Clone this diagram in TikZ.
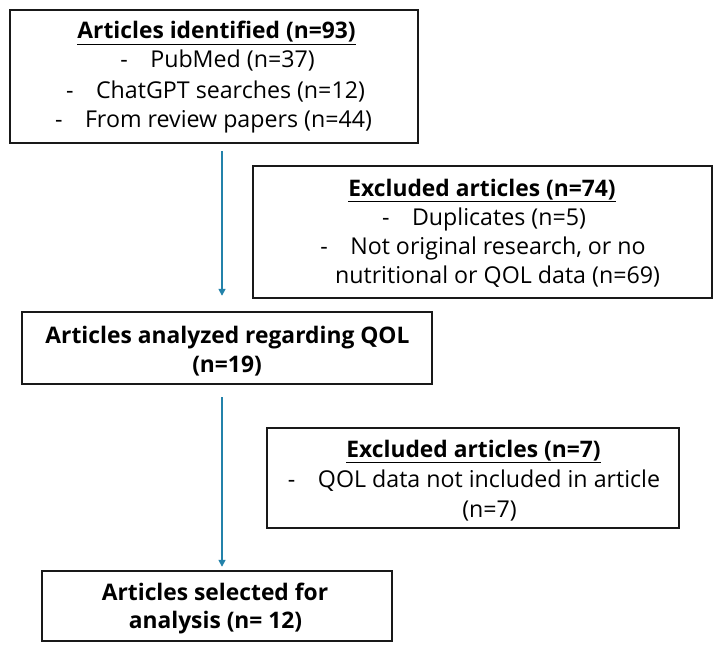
\documentclass[tikz,border=0pt]{standalone}
\usepackage{fontspec}
\setmainfont{Open Sans}
\usetikzlibrary{arrows.meta}
\definecolor{arrowblue}{RGB}{35,130,170}
\definecolor{boxline}{RGB}{25,25,25}
\tikzset{
  box/.style={draw=boxline, line width=2.4pt, fill=white},
  txt/.style={anchor=base, inner sep=0pt, font=\fontsize{23.2}{27}\selectfont, text=black},
  btxt/.style={anchor=base, inner sep=0pt, font=\fontsize{22.8}{27}\selectfont\bfseries, text=black},
  arr/.style={draw=arrowblue, line width=1.6pt, -{Triangle[length=7pt,width=7pt]}},
}
\newcommand{\dsh}{\makebox[30pt][l]{-}}
\begin{document}
\begin{tikzpicture}[x=1pt,y=-1pt]
\useasboundingbox (0,0) rectangle (720,650);
\fill[white] (0,0) rectangle (720,650);
% boxes
\draw[box] (10,10) rectangle (418,143);
\node[inner sep=0pt, minimum width=408pt, minimum height=133pt] (b1) at (214,76.5) {};
\draw[box] (253,166) rectangle (712,298);
\node[inner sep=0pt, minimum width=459pt, minimum height=132pt] (b2) at (482.5,232) {};
\draw[box] (22,312) rectangle (432,384);
\node[inner sep=0pt, minimum width=410pt, minimum height=72pt] (b3) at (227,348) {};
\draw[box] (267,428) rectangle (679,528);
\node[inner sep=0pt, minimum width=412pt, minimum height=100pt] (b4) at (473,478) {};
\draw[box] (42,571) rectangle (392,641);
\node[inner sep=0pt, minimum width=350pt, minimum height=70pt] (b5) at (217,606) {};
% box 1 text
\node[btxt] (t1a) at (216.5,39) {\underline{Articles identified (n=93)}};
\node[txt] (t1b) at (217.5,68) {\dsh PubMed (n=37)};
\node[txt] (t1c) at (215.5,99) {\dsh ChatGPT searches (n=12)};
\node[txt] (t1d) at (213.5,128) {\dsh From review papers (n=44)};
% box 2 text
\node[btxt] (t2a) at (482,196) {\underline{Excluded articles (n=74)}};
\node[txt] (t2b) at (484,225) {\dsh Duplicates (n=5)};
\node[txt] (t2c) at (483,254) {\dsh Not original research, or no};
\node[txt] (t2d) at (497.5,283) {nutritional or QOL data (n=69)};
% box 3 text
\node[btxt] (t3a) at (227.5,343) {Articles analyzed regarding QOL};
\node[btxt] (t3b) at (227,372) {(n=19)};
% box 4 text
\node[btxt] (t4a) at (473.5,457) {\underline{Excluded articles (n=7)}};
\node[txt] (t4b) at (474,487) {\dsh QOL data not included in article};
\node[txt] (t4c) at (489.5,517) {(n=7)};
% box 5 text
\node[btxt] (t5a) at (215,600) {Articles selected for};
\node[btxt] (t5b) at (215.5,628) {analysis (n= 12)};
% arrows
\coordinate (ax) at (222,0);
\draw[arr, shorten <=8pt, shorten >=16pt] (b1.south -| ax) -- (b3.north -| ax);
\draw[arr, shorten <=13pt, shorten >=4pt] (b3.south -| ax) -- (b5.north -| ax);
\end{tikzpicture}
\end{document}
